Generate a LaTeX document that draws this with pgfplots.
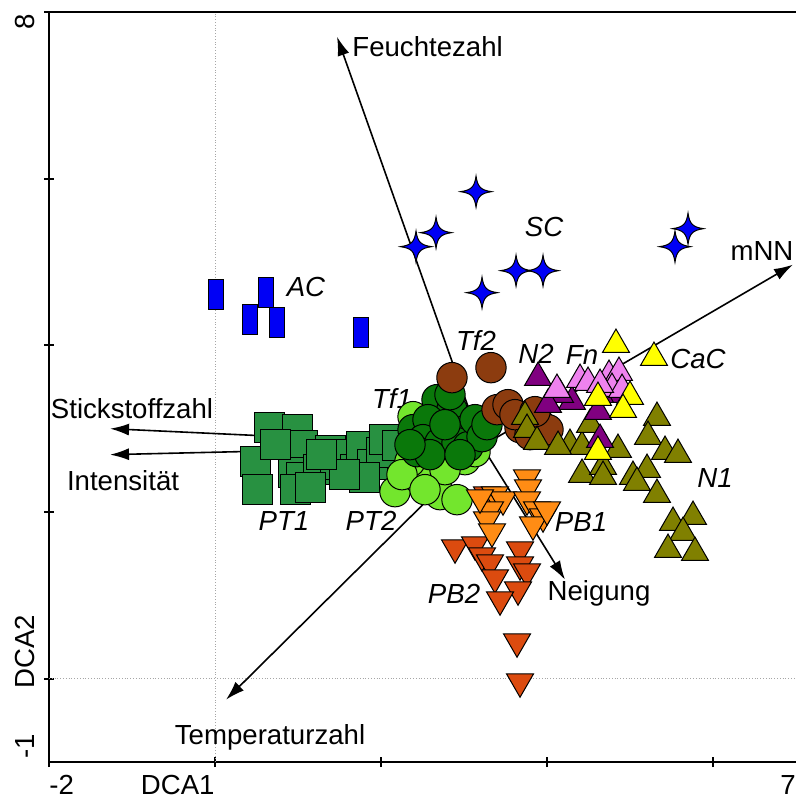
\documentclass[border=0pt]{standalone}
\usepackage{pgfplots}
\pgfplotsset{compat=1.18}
\usepackage{fontspec}
\setmainfont{Liberation Sans}
\usetikzlibrary{arrows.meta}
\definecolor{ptone}{RGB}{40,145,65}
\definecolor{pttwo}{RGB}{115,230,45}
\definecolor{tfone}{RGB}{10,120,10}
\definecolor{tftwo}{RGB}{140,60,15}
\definecolor{olivenone}{RGB}{128,128,0}
\definecolor{ntwo}{RGB}{128,0,128}
\definecolor{fncol}{RGB}{238,130,238}
\definecolor{cac}{RGB}{255,255,0}
\definecolor{pbone}{RGB}{255,140,20}
\definecolor{pbtwo}{RGB}{220,75,15}
\definecolor{bl}{RGB}{0,0,245}
\makeatletter
\pgfdeclareplotmark{vrect}{%
  \pgfpathrectangle{\pgfqpoint{-0.53\pgfplotmarksize}{-\pgfplotmarksize}}{\pgfqpoint{1.06\pgfplotmarksize}{2\pgfplotmarksize}}%
  \pgfusepathqfillstroke}
\pgfdeclareplotmark{star4}{%
  \pgfpathmoveto{\pgfqpoint{0pt}{\pgfplotmarksize}}%
  \pgfpathcurveto{\pgfqpoint{0.1\pgfplotmarksize}{0.3\pgfplotmarksize}}{\pgfqpoint{0.3\pgfplotmarksize}{0.1\pgfplotmarksize}}{\pgfqpoint{\pgfplotmarksize}{0pt}}%
  \pgfpathcurveto{\pgfqpoint{0.3\pgfplotmarksize}{-0.1\pgfplotmarksize}}{\pgfqpoint{0.1\pgfplotmarksize}{-0.3\pgfplotmarksize}}{\pgfqpoint{0pt}{-\pgfplotmarksize}}%
  \pgfpathcurveto{\pgfqpoint{-0.1\pgfplotmarksize}{-0.3\pgfplotmarksize}}{\pgfqpoint{-0.3\pgfplotmarksize}{-0.1\pgfplotmarksize}}{\pgfqpoint{-\pgfplotmarksize}{0pt}}%
  \pgfpathcurveto{\pgfqpoint{-0.3\pgfplotmarksize}{0.1\pgfplotmarksize}}{\pgfqpoint{-0.1\pgfplotmarksize}{0.3\pgfplotmarksize}}{\pgfqpoint{0pt}{\pgfplotmarksize}}%
  \pgfpathclose
  \pgfusepathqfillstroke}
\makeatother
\newcommand\lf{\fontsize{13.8}{16}\selectfont}
\begin{document}
\begin{tikzpicture}
\begin{axis}[name=ax, scale only axis, width=373.5pt, height=375pt,
  xmin=-2, xmax=7, ymin=-1, ymax=8,
  axis lines=left, axis line style={-, line width=1pt},
  xtick={-2,0,2,4,6}, ytick={0,2,4,6,8},
  xticklabels={,,,,}, yticklabels={,,,,},
  tick align=center, major tick length=5pt, tick style={line width=1pt, black},
  clip=false]
% reference lines
\addplot[gray!70, densely dotted, line width=0.4pt] coordinates {(0,-1) (0,8)};
\addplot[gray!70, densely dotted, line width=0.4pt] coordinates {(-2,0) (7,0)};
% PT1
\addplot[only marks, mark=square*, mark size=7.5pt, draw=black, fill=ptone, line width=0.5pt] coordinates {
(0.651,3.012) (0.988,2.988) (1.060,2.796) (1.386,2.736) (0.482,2.604) (0.518,2.268)
(0.940,2.472) (1.048,2.412) (0.964,2.268) (1.241,2.508) (1.446,2.568) (1.627,2.688)
(1.687,2.508) (1.771,2.784) (1.892,2.568) (2.000,2.712) (2.048,2.868) (1.807,2.412)
(1.566,2.448) (0.723,2.808) (1.289,2.688) (2.193,2.796) (1.145,2.292)};
% PT2
\addplot[only marks, mark=*, mark size=7.6pt, draw=black, fill=pttwo, line width=0.5pt] coordinates {
(2.169,2.244) (2.446,2.412) (2.711,2.208) (2.916,2.148) (2.590,2.508) (3.012,2.628)
(2.349,2.604) (2.771,2.508) (3.133,2.724) (2.253,2.448) (2.386,3.144) (2.530,2.268)};
% Tf1
\addplot[only marks, mark=*, mark size=7.6pt, draw=black, fill=tfone, line width=0.5pt] coordinates {
(2.675,3.348) (2.855,3.228) (2.386,2.988) (2.566,3.108) (3.036,2.988) (2.506,2.868)
(2.711,2.832) (2.916,2.832) (2.434,2.724) (3.048,2.784) (3.133,3.108) (3.217,2.904)
(2.771,3.048) (2.590,2.688) (2.952,2.688) (2.349,2.808) (2.831,3.408) (3.277,3.048)};
% Tf2
\addplot[only marks, mark=*, mark size=7.6pt, draw=black, fill=tftwo, line width=0.5pt] coordinates {
(2.855,3.612) (3.325,3.732) (3.398,3.228) (3.530,3.288) (3.675,3.012) (3.916,3.048)
(3.795,2.928) (4.012,2.988) (3.614,3.168) (3.855,3.204)};
% N1
\addplot[only marks, mark=triangle*, mark size=7.8pt, draw=black, fill=olivenone, line width=0.5pt] coordinates {
(3.735,3.144) (3.759,2.988) (3.880,2.844) (4.277,2.808) (4.422,2.784) (4.518,3.048)
(4.855,2.748) (5.325,3.132) (5.217,2.904) (5.422,2.724) (5.578,2.688) (4.422,2.448)
(4.675,2.544) (4.675,2.424) (5.036,2.424) (5.205,2.508) (5.084,2.352) (5.325,2.208)
(5.518,1.872) (5.759,1.944) (5.639,1.752) (5.458,1.548) (5.783,1.512) (4.133,2.784)};
% N2
\addplot[only marks, mark=triangle*, mark size=7.8pt, draw=black, fill=ntwo, line width=0.5pt] coordinates {
(3.892,3.612) (4.301,3.324) (4.614,3.204) (4.639,2.868) (4.157,3.408) (4.012,3.288)
(4.783,3.408) (4.639,3.408)};
% Fn
\addplot[only marks, mark=triangle*, mark size=7.8pt, draw=black, fill=fncol, line width=0.5pt] coordinates {
(4.120,3.468) (4.398,3.588) (4.494,3.552) (4.747,3.636) (4.867,3.672) (4.783,3.480)
(4.904,3.468) (4.639,3.528)};
% CaC
\addplot[only marks, mark=triangle*, mark size=7.8pt, draw=black, fill=cac, line width=0.5pt] coordinates {
(4.831,4.008) (5.289,3.852) (4.614,3.372) (5.000,3.384) (4.916,3.228) (4.614,2.724)};
% PB2
\addplot[only marks, mark=triangle*, mark size=7.8pt, draw=black, fill=pbtwo, line width=0.5pt, mark options={rotate=180}] coordinates {
(2.892,1.572) (3.133,1.608) (3.217,1.476) (3.313,1.392) (3.373,1.212) (3.675,1.548)
(3.675,1.368) (3.759,1.284) (3.651,1.068) (3.434,0.948) (3.639,0.444) (3.675,-0.036)
(3.277,2.208)};
% PB1
\addplot[only marks, mark=triangle*, mark size=7.8pt, draw=black, fill=pbone, line width=0.5pt, mark options={rotate=180}] coordinates {
(3.759,2.412) (3.771,2.292) (3.373,2.208) (3.470,2.148) (3.313,2.028) (3.277,1.908)
(3.337,1.764) (3.759,2.148) (3.880,2.028) (3.952,1.944) (3.831,1.848) (4.000,2.028)
(3.193,2.172)};
% AC
\addplot[only marks, mark=vrect, mark size=7.5pt, draw=black, fill=bl, line width=0.5pt] coordinates {
(0.012,4.608) (0.614,4.632) (0.422,4.308) (0.747,4.272) (1.759,4.152)};
% SC
\addplot[only marks, mark=star4, mark size=7.8pt, draw=black, fill=bl, line width=0.5pt] coordinates {
(3.145,5.844) (2.663,5.352) (2.422,5.184) (3.627,4.896) (3.952,4.896) (3.217,4.632)
(5.699,5.400) (5.542,5.184)};
% arrows
\addplot[black, line width=0.8pt, -{Latex[length=9.5pt,width=6pt]}] coordinates {(3.217,2.792) (1.470,7.704)};
\addplot[black, line width=0.8pt, -{Latex[length=9.5pt,width=6pt]}] coordinates {(3.217,2.792) (6.964,4.968)};
\addplot[black, line width=0.8pt, -{Latex[length=9.5pt,width=6pt]}] coordinates {(3.217,2.792) (-1.265,3.000)};
\addplot[black, line width=0.8pt, -{Latex[length=9.5pt,width=6pt]}] coordinates {(3.217,2.792) (-1.265,2.688)};
\addplot[black, line width=0.8pt, -{Latex[length=9.5pt,width=6pt]}] coordinates {(3.217,2.792) (0.133,-0.252)};
\addplot[black, line width=0.8pt, -{Latex[length=9.5pt,width=6pt]}] coordinates {(3.217,2.792) (4.217,1.188)};
% arrow labels
\node[font=\lf, anchor=west, inner sep=0pt] at (axis cs:1.651,7.584) {Feuchtezahl};
\node[font=\lf, inner sep=0pt] at (axis cs:6.590,5.136) {mNN};
\node[font=\lf, inner sep=0pt] at (axis cs:-1.000,3.240) {Stickstoffzahl};
\node[font=\lf, inner sep=0pt] at (axis cs:-1.108,2.376) {Intensität};
\node[font=\lf, inner sep=0pt] at (axis cs:0.663,-0.708) {Temperaturzahl};
\node[font=\lf, inner sep=0pt] at (axis cs:4.627,1.020) {Neigung};
% group labels
\node[font=\lf\itshape, inner sep=0pt] at (axis cs:1.096,4.704) {AC};
\node[font=\lf\itshape, inner sep=0pt] at (axis cs:3.964,5.424) {SC};
\node[font=\lf\itshape, inner sep=0pt] at (axis cs:3.145,4.056) {Tf2};
\node[font=\lf\itshape, inner sep=0pt] at (axis cs:3.867,3.900) {N2};
\node[font=\lf\itshape, inner sep=0pt] at (axis cs:4.422,3.888) {Fn};
\node[font=\lf\itshape, inner sep=0pt] at (axis cs:5.819,3.840) {CaC};
\node[font=\lf\itshape, inner sep=0pt] at (axis cs:2.133,3.360) {Tf1};
\node[font=\lf\itshape, inner sep=0pt] at (axis cs:0.831,1.896) {PT1};
\node[font=\lf\itshape, inner sep=0pt] at (axis cs:1.880,1.896) {PT2};
\node[font=\lf\itshape, inner sep=0pt] at (axis cs:4.410,1.884) {PB1};
\node[font=\lf\itshape, inner sep=0pt] at (axis cs:2.880,1.020) {PB2};
\node[font=\lf\itshape, inner sep=0pt] at (axis cs:6.024,2.412) {N1};
% tick labels
\node[font=\lf, anchor=north west, inner sep=0pt] at ([yshift=-6.5pt]axis cs:-2,-1) {-2};
\node[font=\lf, anchor=north east, inner sep=0pt] at ([yshift=-6.5pt]axis cs:0,-1) {DCA1};
\node[font=\lf, anchor=north east, inner sep=0pt] at ([yshift=-6.5pt]axis cs:7,-1) {7};
\node[font=\lf, rotate=90, anchor=south west, inner sep=0pt] at ([xshift=-7pt]axis cs:-2,-0.96) {-1};
\node[font=\lf, rotate=90, anchor=south west, inner sep=0pt] at ([xshift=-7pt]axis cs:-2,-0.12) {DCA2};
\node[font=\lf, rotate=90, anchor=south east, inner sep=0pt] at ([xshift=-7pt]axis cs:-2,7.98) {8};
\end{axis}
\draw[line width=1pt] (ax.north west) -- (ax.north east);
\path ([xshift=-24.5pt,yshift=-19pt]ax.south west) rectangle ([xshift=1pt,yshift=6pt]ax.north east);
\end{tikzpicture}
\end{document}
